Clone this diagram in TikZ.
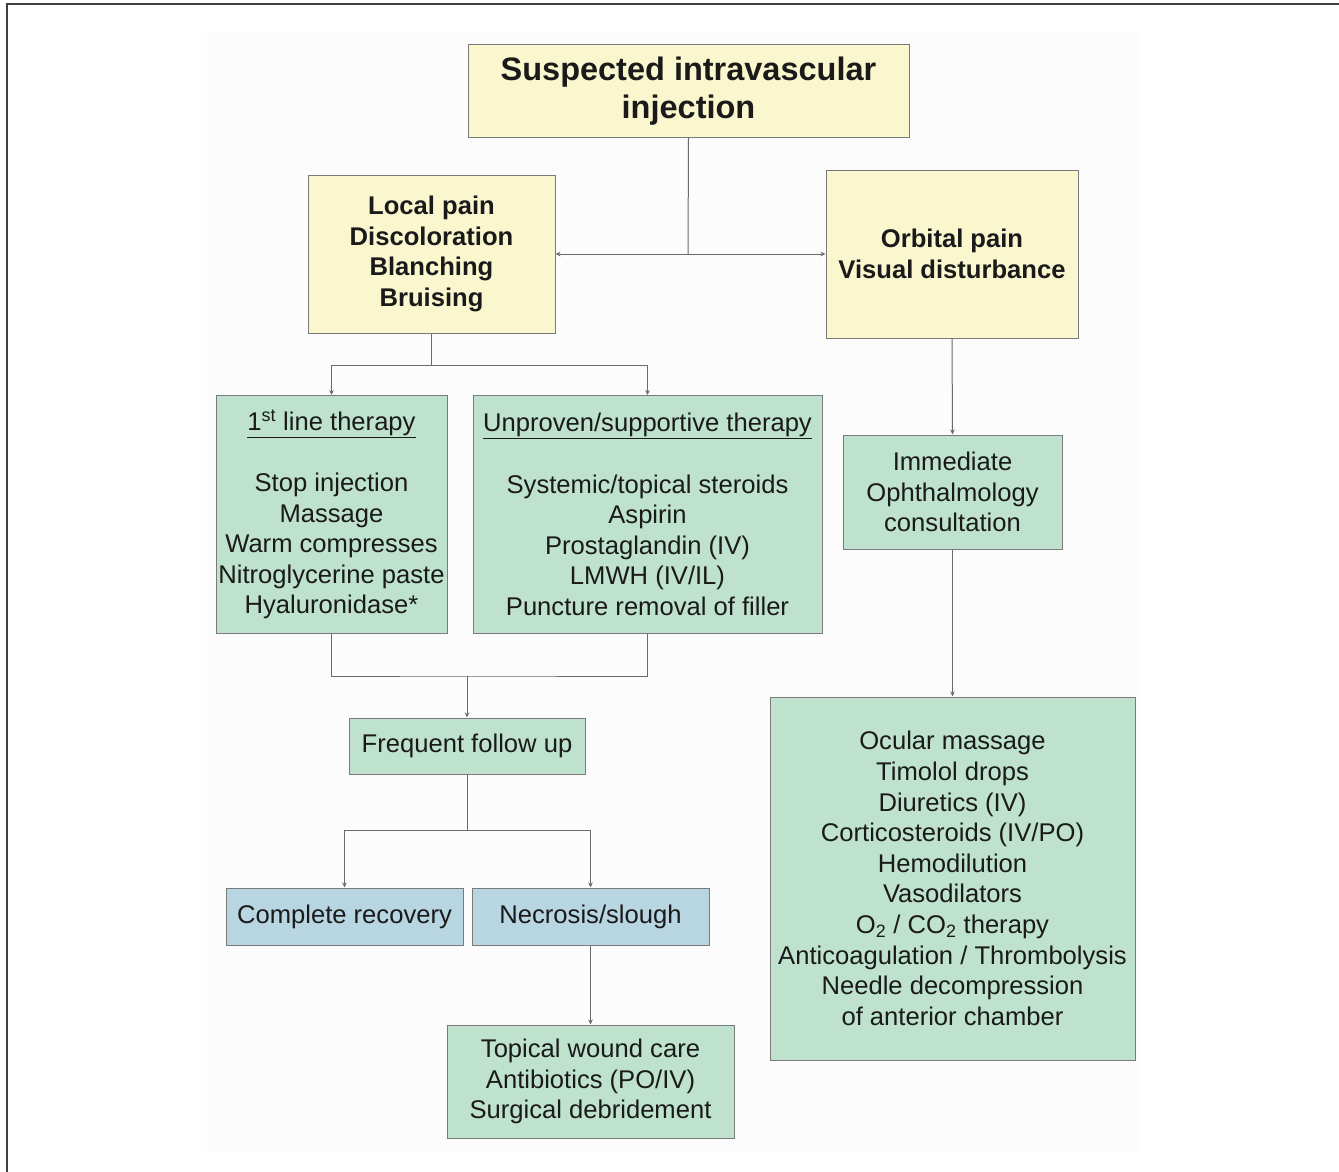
\documentclass[tikz,border=0pt]{standalone}
\usepackage{fontspec}
\setmainfont{Liberation Sans}
\usetikzlibrary{arrows.meta}
\definecolor{ylw}{HTML}{FAF7CF}
\definecolor{grn}{HTML}{BEE2CD}
\definecolor{blu}{HTML}{B8D6E2}
\definecolor{edge}{HTML}{7A7A7A}
\definecolor{wire}{HTML}{6A6A6A}
\definecolor{ink}{HTML}{1A1A1A}
\definecolor{bg}{HTML}{FCFCFC}
\tikzset{
  basebox/.style={draw=edge, line width=1pt, inner sep=0pt, align=center, text=ink,
    font=\fontsize{25.6}{30.6}\selectfont},
  ybox/.style={basebox, fill=ylw, font=\bfseries\fontsize{25.6}{30.6}\selectfont},
  tbox/.style={basebox, fill=ylw, font=\bfseries\fontsize{32.5}{38}\selectfont},
  gbox/.style={basebox, fill=grn},
  bbox/.style={basebox, fill=blu},
  wireline/.style={draw=wire, line width=1pt},
  arr/.style={wireline, -{Stealth[length=5pt,width=4.5pt]}}
}
\begin{document}
\begin{tikzpicture}[x=1pt,y=-1pt]
\useasboundingbox (0,0) rectangle (1339,1172);
\fill[bg] (207,32) rectangle (1141,1151);
\draw[line width=2pt, draw=black!75] (1339,4) -- (7,4) -- (7,1172);

\node[tbox, minimum width=441pt, minimum height=92pt] (title) at (688.5,91) {Suspected intravascular\\injection};
\node[ybox, minimum width=247pt, minimum height=158pt] (local) at (431.5,254) {Local pain\\Discoloration\\Blanching\\Bruising};
\node[ybox, minimum width=252pt, minimum height=168pt] (orbital) at (952,254) {Orbital pain\\Visual disturbance};

\node[gbox, minimum width=231pt, minimum height=238pt] (first) at (331.5,514.5) {\underline{1\textsuperscript{st} line therapy}\\[30.6pt]Stop injection\\Massage\\Warm compresses\\Nitroglycerine paste\\Hyaluronidase*};
\node[gbox, minimum width=349pt, minimum height=238pt] (unproven) at (647.5,514.5) {\underline{Unproven/supportive therapy}\\[30.6pt]Systemic/topical steroids\\Aspirin\\Prostaglandin (IV)\\LMWH (IV/IL)\\Puncture removal of filler};

\node[gbox, minimum width=236pt, minimum height=56pt] (freq) at (467,746) {Frequent follow up};
\node[bbox, minimum width=237pt, minimum height=57pt] (complete) at (344.5,916.5) {Complete recovery};
\node[bbox, minimum width=237pt, minimum height=57pt] (necrosis) at (590.5,916.5) {Necrosis/slough};
\node[gbox, minimum width=287pt, minimum height=113pt] (topical) at (590.5,1081.5) {Topical wound care\\Antibiotics (PO/IV)\\Surgical debridement};

\node[gbox, minimum width=219pt, minimum height=114pt] (immediate) at (952.5,492) {Immediate\\Ophthalmology\\consultation};
\node[gbox, minimum width=365pt, minimum height=363pt] (big) at (952.5,878.5) {Ocular massage\\Timolol drops\\Diuretics (IV)\\Corticosteroids (IV/PO)\\Hemodilution\\Vasodilators\\O\textsubscript{2} / CO\textsubscript{2} therapy\\Anticoagulation / Thrombolysis\\Needle decompression\\of anterior chamber};

\coordinate (hub) at (688,254);
\draw[wireline] (title.south) -- (hub);
\draw[arr] (hub) -- (local.east);
\draw[arr] (hub) -- (orbital.west);

\coordinate (j1) at (431.5,365);
\draw[wireline] (local.south) -- (j1);
\draw[arr] (j1) -| (first.north);
\draw[arr] (j1) -| (unproven.north);

\coordinate (j2) at (467,676);
\draw[wireline] (first.south) |- (j2) -| (unproven.south);
\draw[arr] (j2) -- (freq.north);

\coordinate (j3) at (467,830);
\draw[wireline] (freq.south) -- (j3);
\draw[arr] (j3) -| (complete.north);
\draw[arr] (j3) -| (necrosis.north);

\draw[arr] (necrosis.south) -- (topical.north);
\draw[arr] (orbital.south) -- (immediate.north);
\draw[arr] (immediate.south) -- (big.north);
\end{tikzpicture}
\end{document}
